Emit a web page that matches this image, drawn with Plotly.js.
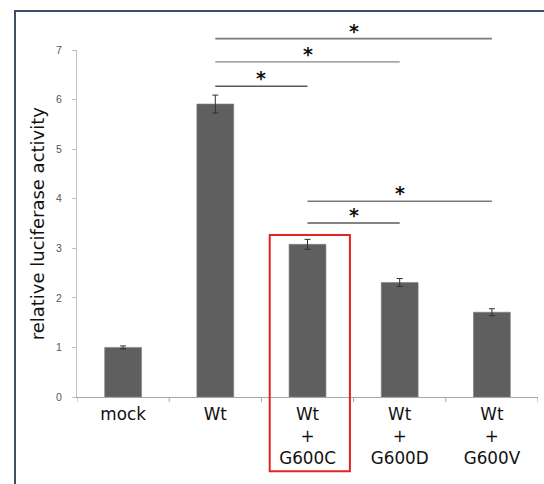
<!DOCTYPE html>
<html>
<head>
<meta charset="utf-8">
<script src="https://cdn.plot.ly/plotly-3.0.1.min.js"></script>
<style>
  html, body { margin: 0; padding: 0; background: #fff; }
  #wrap { position: relative; width: 544px; height: 484px; overflow: hidden; }
  #chart { width: 544px; height: 484px; }
  #frame { position: absolute; left: 14px; top: 10px; right: -10px; bottom: -10px;
           border-left: 2px solid #3b4f66; border-top: 2px solid #3b4f66; pointer-events: none; }
</style>
</head>
<body>
<div id="wrap"><div id="chart"></div><div id="frame"></div></div>
<script>
// ---- data ----
const categories = ['mock', 'Wt', 'Wt<br>+<br>G600C', 'Wt<br>+<br>G600D', 'Wt<br>+<br>G600V'];
const activity   = [1.00, 5.91, 3.08, 2.31, 1.71];
const errors     = [0.03, 0.18, 0.10, 0.08, 0.07];

// significance brackets: [from category index, to category index, level (data units)]
const bracketFrom   = [1, 1, 1, 2, 2];
const bracketTo     = [4, 3, 2, 4, 3];
const bracketLevel  = [7.23, 6.76, 6.27, 3.95, 3.51];
const bracketColor  = ['#7a7a7a', '#a8a8a8', '#5a5a5a', '#7a7a7a', '#5a5a5a'];
const bracketLabel  = ['*', '*', '*', '*', '*'];

const highlighted = 2;          // category boxed in red
const highlightTop = 3.27;      // data units
const yMax = 7;
const yTitle = 'relative luciferase activity';

const trace = {
  type: 'bar',
  x: categories.map((c, i) => i),
  y: activity,
  width: 0.4,
  marker: { color: '#5f5f5f', line: { color: '#808080', width: 0.6 } },
  error_y: { type: 'data', array: errors, visible: true, color: '#303030', thickness: 1, width: 3 },
  hoverinfo: 'skip'
};

const shapes = [];
const annotations = [];
for (let k = 0; k < bracketLevel.length; k++) {
  const yp = bracketLevel[k] / yMax;
  shapes.push({ type: 'line', xref: 'x', yref: 'paper',
    x0: bracketFrom[k], x1: bracketTo[k], y0: yp, y1: yp,
    line: { color: bracketColor[k], width: 1.6 } });
  annotations.push({ xref: 'x', yref: 'paper', x: (bracketFrom[k] + bracketTo[k]) / 2, y: yp,
    text: '<b>' + bracketLabel[k] + '</b>', showarrow: false, yanchor: 'middle', yshift: 8,
    font: { family: 'DejaVu Sans', size: 19, color: '#111' } });
}
shapes.push({ type: 'rect', xref: 'x', yref: 'paper',
  x0: highlighted - 0.41, x1: highlighted + 0.46, y0: -0.214, y1: highlightTop / yMax,
  line: { color: '#e32222', width: 2 }, fillcolor: 'rgba(0,0,0,0)' });

// y-axis title as rotated annotation
annotations.push({ xref: 'paper', yref: 'paper', x: -0.085, y: 0.5, xanchor: 'center', yanchor: 'middle',
  text: yTitle, textangle: -90, showarrow: false,
  font: { family: 'DejaVu Sans', size: 18, color: '#111' } });

const layout = {
  width: 544, height: 484,
  margin: { l: 77, r: 6, t: 50, b: 87, pad: 0 },
  paper_bgcolor: '#ffffff', plot_bgcolor: '#ffffff',
  showlegend: false,
  xaxis: {
    type: 'linear', range: [-0.5, 4.5],
    tickmode: 'array', tickvals: categories.map((c, i) => i), ticktext: categories,
    showline: true, linecolor: '#a6a6a6', linewidth: 1,
    ticks: '', showgrid: false, zeroline: false,
    ticklabelstandoff: 2,
    tickfont: { family: 'DejaVu Sans', size: 16.8, color: '#111' }
  },
  yaxis: {
    range: [0, yMax], dtick: 1, tick0: 0,
    showline: true, linecolor: '#c0c0c0', linewidth: 1,
    ticks: 'outside', ticklen: 4, tickcolor: '#c0c0c0',
    showgrid: false, zeroline: false,
    tickfont: { family: 'Liberation Sans', size: 10.5, color: '#555' },
    ticklabelstandoff: 8
  },
  shapes: shapes,
  annotations: annotations
};

// category boundary ticks on x axis (Excel style)
const bounds = [-0.5, 0.5, 1.5, 2.5, 3.5, 4.5];
bounds.forEach(b => shapes.push({ type: 'line', xref: 'x', yref: 'paper', x0: b, x1: b, y0: 0, y1: -0.015,
  line: { color: '#a6a6a6', width: 1 } }));

Plotly.newPlot('chart', [trace], layout, { staticPlot: true, displayModeBar: false });
</script>
</body>
</html>
